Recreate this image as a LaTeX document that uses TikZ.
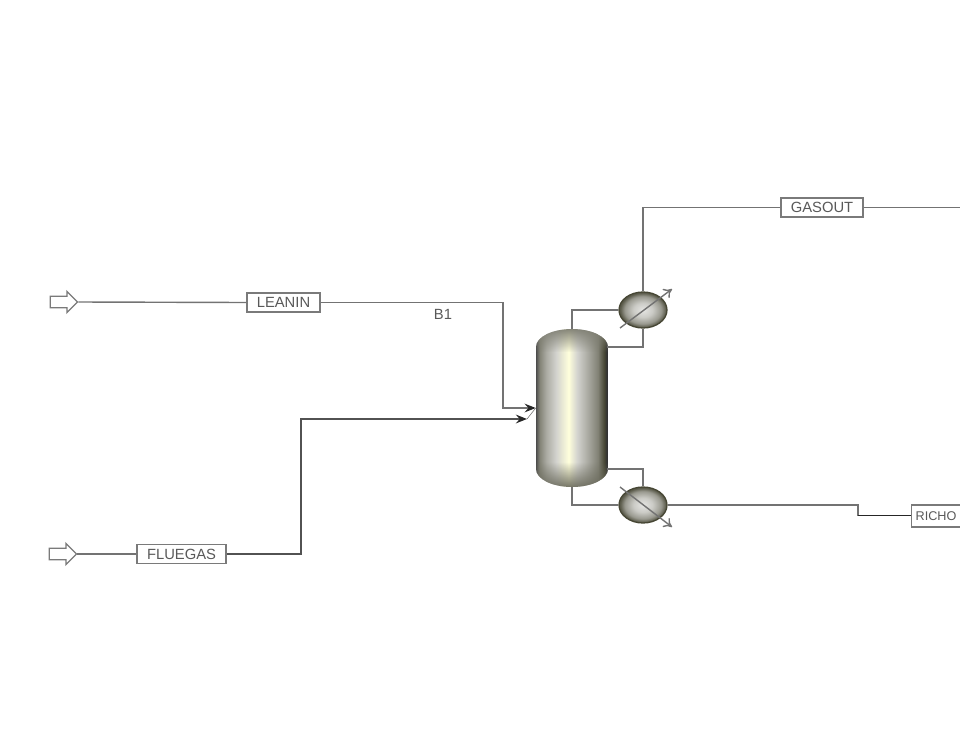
\documentclass[tikz,border=0pt]{standalone}
\usepackage{fontspec}
\setmainfont{Liberation Sans}
\usepackage{tikz}
\usetikzlibrary{arrows, arrows.meta, positioning, shapes.geometric, shapes.arrows, fadings}
\colorlet{colorStream}{black!55}
\colorlet{colorBox}{black!52}
\colorlet{colorLabel}{black!65}
\definecolor{colorVessel}{RGB}{70,70,52}
\pgfdeclarehorizontalshading{shadeColumn}{100bp}{
  color(0bp)=(black!72);
  color(25bp)=(black!70);
  color(27.4bp)=(colorVessel!68!white);
  color(32bp)=(colorVessel!46!white);
  color(39bp)=(colorVessel!24!white);
  color(47.6bp)=(yellow!14!white);
  color(53.6bp)=(colorVessel!24!white);
  color(61bp)=(colorVessel!46!white);
  color(68bp)=(colorVessel!68!white);
  color(72.5bp)=(colorVessel);
  color(74bp)=(black!80);
  color(100bp)=(black!80)}
\pgfdeclareradialshading{shadeExchanger}{\pgfpoint{0bp}{0bp}}{
  color(0bp)=(colorVessel!14!white);
  color(10bp)=(colorVessel!28!white);
  color(19bp)=(colorVessel!55!white);
  color(24bp)=(colorVessel!90!white);
  color(50bp)=(colorVessel)}
\tikzset{
  streambox/.style={draw=colorBox, line width=0.9pt, fill=white, inner sep=0pt, minimum height=0.48cm, text=colorLabel, font=\fontsize{10.5}{12}\selectfont},
  feedarrow/.style={shape=single arrow, draw=colorBox, line width=0.9pt, fill=white, inner xsep=0pt, inner ysep=0.13cm, minimum height=0.68cm, single arrow head extend=0.12cm},
  exchanger/.style={shape=ellipse, draw=colorVessel, line width=0.9pt, inner sep=0pt, minimum width=1.2cm, minimum height=0.9cm, shading=shadeExchanger},
  stream/.style={draw=colorStream, line width=1pt},
  inlet/.style={stream, -{Stealth[black!85, length=0.28cm, width=0.22cm, inset=0.1cm]}},
  utility/.style={stream, -{To[length=0.2cm, width=0.28cm]}}
}

\begin{document}
\begin{tikzpicture}[x=0.025cm, y=-0.025cm]
\useasboundingbox (0,0) rectangle (960,750);
% column body
\begin{scope}
\clip (536,347) arc[start angle=180, end angle=360, x radius=36, y radius=18] -- (608,469) arc[start angle=0, end angle=180, x radius=36, y radius=18] -- cycle;
\path[shading=shadeColumn] (536,329) rectangle (608,487);
\fill[colorVessel!70!white, path fading=south] (536,327) rectangle (608,352);
\fill[colorVessel!80!white, path fading=north] (536,462) rectangle (608,489);
\end{scope}
\node[minimum width=1.8cm, minimum height=3.95cm, inner sep=0pt] (column) at (572,408) {};
\node[exchanger] (condenser) at (643,310) {};
\node[exchanger] (reboiler) at (643,505) {};
% stream blocks
\node[feedarrow] (leanfeed) at (61,302) {};
\node[feedarrow] (fluefeed) at (60,554) {};
\node[streambox, minimum width=1.83cm] (leanin) at (283.5,302.5) {LEANIN};
\node[streambox, line width=1.2pt, minimum width=2.23cm] (fluegas) at (181.5,554) {FLUEGAS};
\node[streambox, minimum width=2.05cm] (gasout) at (822,207.5) {GASOUT};
\node[streambox, draw=none, fill=none, font=\fontsize{9}{12}\selectfont, minimum width=1.2cm, minimum height=0.52cm] (richout) at (936,516) {RICHO};
\node[text=colorLabel, font=\fontsize{10.5}{12}\selectfont, inner sep=0pt] (blocklabel) at (443,314) {B1};
\draw[draw=colorBox, line width=0.9pt] (richout.north east) -- (richout.north west) -- (richout.south west) -- (richout.south east);
% named corners
\coordinate (leanturn) at (503,408);
\coordinate (flueturn) at (301,419);
\coordinate (flueend) at (527,419);
\coordinate (gasright) at (960,207.5);
\coordinate (richstep) at (858,515.5);
\coordinate (condin) at (620,328);
\coordinate (condout) at (672,289);
\coordinate (rebin) at (620,487);
\coordinate (rebout) at (672,527);
% streams
\draw[stream] (leanfeed.tip) -- (leanin.west);
\draw[stream] (fluefeed.tip) -- (fluegas.west);
\draw[inlet] (leanin.east) -| (leanturn) -- (leanturn -| column.west);
\draw[inlet, draw=black!68] (fluegas.east) -| (flueturn) -- (flueend);
\draw[stream, thin] (flueend) -- (leanturn -| column.west);
\draw[stream] (condenser.north) |- (gasout.west);
\draw[stream] (gasout.east) -- (gasright);
\draw[stream] (column.north) |- (condenser.west);
\draw[stream] (condenser.south) |- (607,347);
\draw[stream] (607,469) -| (reboiler.north);
\draw[stream] (column.south) |- (reboiler.west);
\draw[stream] (reboiler.east) -| (richstep);
\draw[line width=1.2pt, black!85] (richstep) -- (richstep -| richout.west);
% exchanger arrows
\draw[utility] (condin) -- (condout);
\draw[utility] (rebin) -- (rebout);
\end{tikzpicture}
\end{document}
